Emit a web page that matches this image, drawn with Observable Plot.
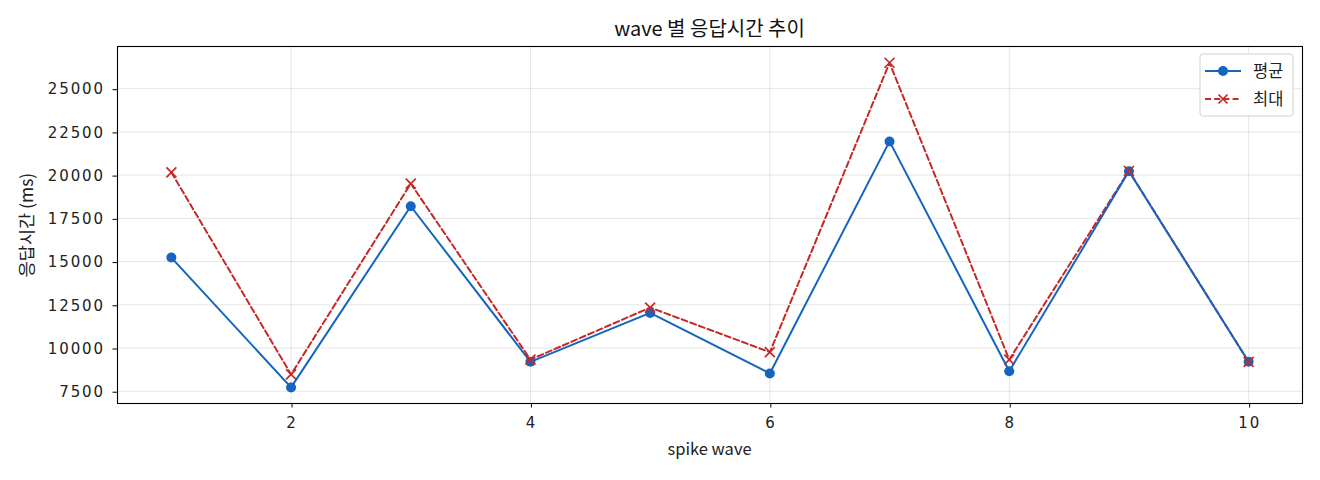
<!DOCTYPE html>
<html>
<head>
<meta charset="utf-8">
<script src="https://cdn.jsdelivr.net/npm/d3@7"></script>
<script src="https://cdn.jsdelivr.net/npm/@observablehq/plot@0.6"></script>
<style>
  html, body { margin: 0; padding: 0; background: #fff; }
  #chart { width: 1320px; height: 480px; }
  .tick-label text { letter-spacing: 1.9px; }
</style>
</head>
<body>
<div id="chart"></div>
<script>
const waves = [1, 2, 3, 4, 5, 6, 7, 8, 9, 10];
const meanValues = [15230, 7720, 18200, 9200, 12030, 8530, 21950, 8660, 20220, 9200];
const maxValues  = [20160, 8470, 19510, 9330, 12340, 9760, 26500, 9330, 20240, 9200];
const xTicks = [2, 4, 6, 8, 10];
const yTicks = [7500, 10000, 12500, 15000, 17500, 20000, 22500, 25000];
const seriesNames = ["평균", "최대"];
const titleText = "wave 별 응답시간 추이";
const xLabel = "spike wave";
const yLabel = "응답시간 (ms)";

const meanData = waves.map((w, i) => ({ wave: w, value: meanValues[i] }));
const maxData = waves.map((w, i) => ({ wave: w, value: maxValues[i] }));

const blue = "#1565c0";
const red = "#c62828";
const tickFont = "'DejaVu Sans', 'Noto Sans', sans-serif";
const textFont = "'Noto Sans CJK KR', 'Noto Sans', sans-serif";

const chart = Plot.plot({
  width: 1320,
  height: 480,
  marginLeft: 117,
  marginRight: 18,
  marginTop: 46,
  marginBottom: 77,
  style: { fontFamily: textFont, fontSize: "15px", color: "#222" },
  x: { domain: [0.55, 10.45], ticks: xTicks, label: null },
  y: { domain: [6790, 27440], ticks: yTicks, label: null },
  marks: [
    Plot.gridX(xTicks, { stroke: "#000", strokeOpacity: 0.1, strokeWidth: 1 }),
    Plot.gridY(yTicks, { stroke: "#000", strokeOpacity: 0.1, strokeWidth: 1 }),
    Plot.axisX(xTicks, { tickSize: 4.5, tickPadding: 9, fontSize: 15, fontFamily: tickFont, className: "tick-label", dx: 1, tickFormat: d => String(d), label: null, stroke: "#000", fill: "#222" }),
    Plot.axisY(yTicks, { tickSize: 4.5, tickPadding: 8, fontSize: 15, fontFamily: tickFont, className: "tick-label", dy: 1, tickFormat: d => String(d), label: null, stroke: "#000", fill: "#222" }),
    Plot.line(maxData, { x: "wave", y: "value", stroke: red, strokeWidth: 2, strokeDasharray: "6,3.2" }),
    Plot.line(meanData, { x: "wave", y: "value", stroke: blue, strokeWidth: 2 }),
    Plot.dot(meanData, { x: "wave", y: "value", r: 5, fill: blue, stroke: null }),
    Plot.dot(maxData, { x: "wave", y: "value", r: 4.6, symbol: "times", stroke: red, strokeWidth: 1.7 }),
    Plot.frame({ stroke: "#000", strokeWidth: 1.1 })
  ]
});

document.getElementById("chart").appendChild(chart);

const svg = d3.select(chart);
// title
svg.append("text")
  .attr("x", 709.5).attr("y", 36)
  .attr("text-anchor", "middle")
  .attr("font-family", textFont)
  .attr("font-size", 20).attr("fill", "#111")
  .text(titleText);
// x label
svg.append("text")
  .attr("x", 709.5).attr("y", 455)
  .attr("text-anchor", "middle")
  .attr("font-family", textFont)
  .attr("font-size", 16.5).attr("fill", "#222")
  .text(xLabel);
// y label
svg.append("text")
  .attr("transform", "translate(33,225) rotate(-90)")
  .attr("text-anchor", "middle")
  .attr("font-family", textFont)
  .attr("font-size", 17.5).attr("fill", "#222")
  .text(yLabel);

// legend
const lg = svg.append("g");
lg.append("rect")
  .attr("x", 1200).attr("y", 54).attr("width", 93).attr("height", 62)
  .attr("rx", 3).attr("fill", "#fff").attr("fill-opacity", 0.85)
  .attr("stroke", "#d0d0d0").attr("stroke-width", 1);
const rows = [
  { name: seriesNames[0], color: blue, dash: null, y: 71, marker: "circle" },
  { name: seriesNames[1], color: red, dash: "6,3.2", y: 99, marker: "x" }
];
rows.forEach(r => {
  lg.append("line")
    .attr("x1", 1205).attr("x2", 1241).attr("y1", r.y).attr("y2", r.y)
    .attr("stroke", r.color).attr("stroke-width", 2)
    .attr("stroke-dasharray", r.dash);
  if (r.marker === "circle") {
    lg.append("circle").attr("cx", 1223).attr("cy", r.y).attr("r", 5).attr("fill", r.color);
  } else {
    lg.append("path")
      .attr("d", `M${1223-4.5},${r.y-4.5}L${1223+4.5},${r.y+4.5}M${1223-4.5},${r.y+4.5}L${1223+4.5},${r.y-4.5}`)
      .attr("stroke", r.color).attr("stroke-width", 1.7);
  }
  lg.append("text")
    .attr("x", 1253).attr("y", r.y + 6)
    .attr("text-anchor", "start")
    .attr("font-family", textFont)
    .attr("font-size", 16.5).attr("fill", "#222")
    .text(r.name);
});
</script>
</body>
</html>
